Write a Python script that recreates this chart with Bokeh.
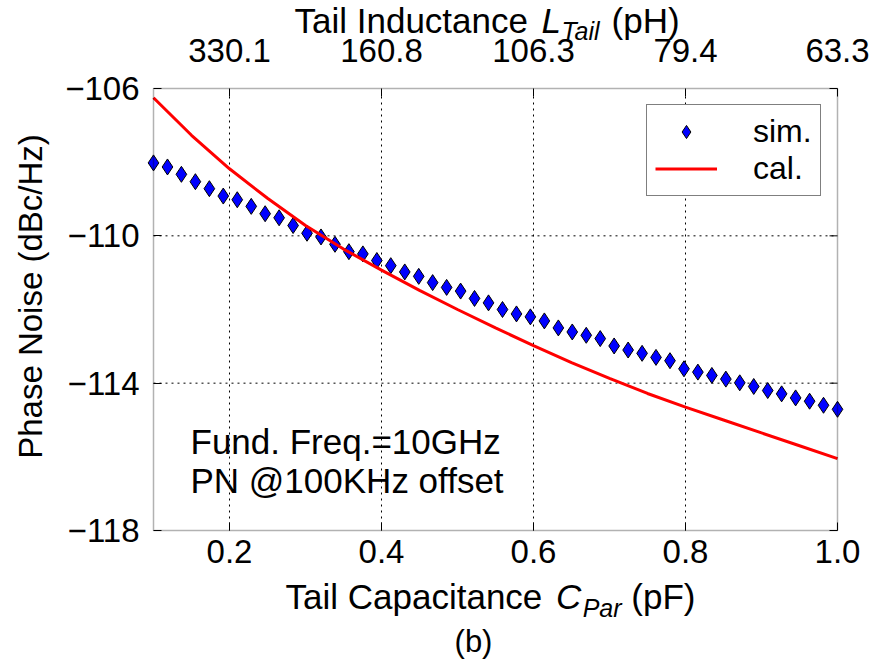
import math
from bokeh.plotting import figure
from bokeh.models import (FixedTicker, CustomJSTickFormatter, Label, Range1d, LinearAxis,
                          BoxAnnotation)
from bokeh.embed import file_html
from bokeh.resources import INLINE

# ---------------- data ----------------
cpar_sim = [0.1000, 0.1184, 0.1367, 0.1551, 0.1735, 0.1918, 0.2102, 0.2286, 0.2469, 0.2653,
            0.2837, 0.3020, 0.3204, 0.3388, 0.3571, 0.3755, 0.3939, 0.4122, 0.4306, 0.4490,
            0.4673, 0.4857, 0.5041, 0.5224, 0.5408, 0.5592, 0.5776, 0.5959, 0.6143, 0.6327,
            0.6510, 0.6694, 0.6878, 0.7061, 0.7245, 0.7429, 0.7612, 0.7796, 0.7980, 0.8163,
            0.8347, 0.8531, 0.8714, 0.8898, 0.9082, 0.9265, 0.9449, 0.9633, 0.9816, 1.0000]
pn_sim = [-108.02, -108.13, -108.33, -108.53, -108.72, -108.92, -109.02, -109.20, -109.40, -109.51,
          -109.72, -109.93, -110.03, -110.23, -110.43, -110.49, -110.67, -110.81, -110.98, -111.10,
          -111.27, -111.40, -111.50, -111.70, -111.82, -112.00, -112.12, -112.20, -112.31, -112.50,
          -112.61, -112.70, -112.79, -112.99, -113.10, -113.19, -113.30, -113.39, -113.61, -113.70,
          -113.79, -113.89, -113.99, -114.09, -114.20, -114.29, -114.40, -114.49, -114.60, -114.71]

cpar_cal = [0.10, 0.15, 0.20, 0.25, 0.30, 0.35, 0.40, 0.45, 0.50, 0.55,
            0.60, 0.65, 0.70, 0.75, 0.80, 0.85, 0.90, 0.95, 1.00]
pn_cal = [-106.25, -107.27, -108.18, -108.98, -109.72, -110.36, -110.93, -111.48, -112.00, -112.50,
          -112.98, -113.44, -113.87, -114.28, -114.65, -115.00, -115.35, -115.70, -116.05]

x_ticks = [0.2, 0.4, 0.6, 0.8, 1.0]
y_ticks = [-118, -114, -110, -106]
ltail_labels = ["330.1", "160.8", "106.3", "79.4", "63.3"]

# ---------------- layout constants ----------------
FONT = "Liberation Sans"
X0, X1 = 0.1, 1.0
Y0, Y1 = -118, -106
W, H = 875, 662
PL, PT, PW, PH = 153, 88, 684, 442     # plot area inside the canvas (pixels)
MID = 0.357                            # baseline -> text-middle offset (em)


def dx(px):
    return X0 + (px - PL) * (X1 - X0) / PW


def dy(py):
    return Y1 - (py - PT) * (Y1 - Y0) / PH


# the frame covers the whole canvas; the plot area is placed through the ranges
p = figure(frame_width=W, frame_height=H,
           x_range=Range1d(dx(0), dx(W)), y_range=Range1d(dy(H), dy(0)),
           output_backend="svg", toolbar_location=None,
           min_border_left=0, min_border_right=0, min_border_top=0, min_border_bottom=0,
           background_fill_color="white", border_fill_color="white")
p.title.visible = False
p.outline_line_color = None
p.xgrid.visible = False
p.ygrid.visible = False


def style_axis(ax, loc, bounds):
    ax.fixed_location = loc
    ax.bounds = bounds
    ax.axis_line_color = None
    ax.major_tick_in = 8
    ax.major_tick_out = 0
    ax.major_tick_line_color = "black"
    ax.major_tick_line_width = 1
    ax.minor_tick_line_color = None
    ax.major_label_text_font = FONT
    ax.major_label_text_font_size = "33px"
    ax.major_label_text_color = "black"


bottom = p.below[0]
bottom.ticker = FixedTicker(ticks=x_ticks)
bottom.formatter = CustomJSTickFormatter(code="return tick.toFixed(1);")
style_axis(bottom, Y0, (X0, X1))
bottom.major_label_standoff = 9

left = p.left[0]
left.ticker = FixedTicker(ticks=y_ticks)
left.formatter = CustomJSTickFormatter(code="return (tick < 0 ? '\u2212' : '') + Math.abs(tick).toFixed(0);")
style_axis(left, X0, (Y0, Y1))
left.major_label_standoff = 14

top = LinearAxis(ticker=FixedTicker(ticks=x_ticks),
                 formatter=CustomJSTickFormatter(
                     args=dict(tvals=x_ticks, tlabs=ltail_labels),
                     code="const i = tvals.findIndex(t => Math.abs(t - tick) < 1e-9); return i >= 0 ? tlabs[i] : '';"))
style_axis(top, Y1, (X0, X1))
top.major_label_standoff = 27
p.add_layout(top, "above")

# dotted grid at the inner ticks
gx = [t for t in x_ticks if X0 < t < X1]
gy = [t for t in y_ticks if Y0 < t < Y1]
p.segment(x0=gx, y0=[Y0] * len(gx), x1=gx, y1=[Y1] * len(gx),
          line_color="black", line_width=1, line_dash="2 4")
p.segment(x0=[X0] * len(gy), y0=gy, x1=[X1] * len(gy), y1=gy,
          line_color="black", line_width=1, line_dash="2 4")

# inward tick marks on the right spine
p.ray(x=[X1] * len(y_ticks), y=y_ticks, length=8, length_units="screen",
      angle=math.pi, line_color="black", line_width=1)

# data
p.scatter(cpar_sim, pn_sim, marker="diamond", size=16, fill_color="#0000ff",
          line_color="black", line_width=1, legend_label="sim.")
p.line(cpar_cal, pn_cal, line_color="#ff0000", line_width=3, legend_label="cal.")

# plot-area border (spines)
p.add_layout(BoxAnnotation(left=X0, right=X1, bottom=Y0, top=Y1, fill_alpha=0.0,
                           line_color="black", line_width=1.5))

lg = p.legend[0]
lg.location = (646, H - 196)
lg.padding = 8
lg.spacing = 0
lg.glyph_width = 62
lg.glyph_height = 33
lg.label_height = 33
lg.label_standoff = 36
lg.label_text_font = FONT
lg.label_text_font_size = "32px"
lg.label_text_color = "black"
lg.border_line_color = "black"
lg.border_line_width = 1.5
lg.background_fill_alpha = 1.0

# ---------------- texts ----------------
AW = {' ': 278, '(': 333, ')': 333, 'C': 722, 'F': 611, 'H': 722, 'I': 278, 'L': 556,
      'P': 667, 'T': 611, 'a': 556, 'c': 500, 'd': 556, 'e': 556, 'i': 222, 'l': 222,
      'n': 556, 'p': 556, 'r': 333, 't': 278, 'u': 556}


def tw(s, size):
    return sum(AW.get(c, 556) for c in s) * size / 1000.0


def add_label(px, base, text, size, style="normal", align="left"):
    """horizontal text whose baseline sits at page y = base"""
    p.add_layout(Label(x=dx(px), y=dy(base - MID * size), x_units="data", y_units="data",
                       text=text, text_font=FONT, text_font_size=f"{size}px",
                       text_font_style=style, text_align=align, text_baseline="middle",
                       text_color="black"))


def rich(start_px, base, pieces):
    """pieces: (text, size, style, baseline drop, gap before in em)"""
    x = start_px
    for t, s, st, drop, gap in pieces:
        x += gap * s
        add_label(x, base + drop, t, s, st)
        x += tw(t, s)


rich(294, 32, [("Tail Inductance", 35, "normal", 0, 0), ("L", 35, "italic", 0, 0.278),
               ("Tail", 25, "italic", 7, 0.02), ("(pH)", 35, "normal", 0, 0.278)])
rich(285, 608, [("Tail Capacitance", 35, "normal", 0, 0), ("C", 35, "italic", 0, 0.278),
                ("Par", 25, "italic", 8, 0.06), ("(pF)", 35, "normal", 0, 0.278)])

# rotated y title: baseline at page x = 42, centred at page y = 296
p.add_layout(Label(x=dx(42 - MID * 33), y=dy(296), x_units="data", y_units="data",
                   text="Phase Noise (dBc/Hz)", text_font=FONT, text_font_size="33px",
                   text_align="center", text_baseline="middle", text_color="black",
                   angle=math.pi / 2))

add_label(190, 453, "Fund. Freq.=10GHz", 35)
add_label(190, 492, "PN @100KHz offset", 35)
add_label(473, 652, "(b)", 31, align="center")

open("out.html", "w", encoding="utf-8").write(file_html(p, INLINE))
